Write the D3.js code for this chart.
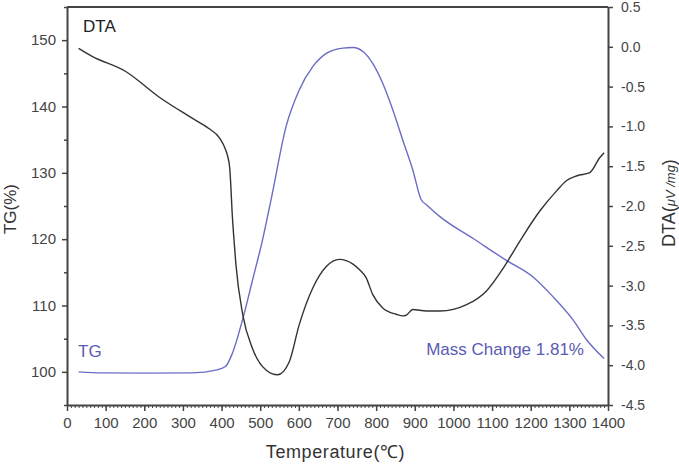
<!DOCTYPE html>
<html lang="en">
<head>
  <meta charset="UTF-8">
  <title>TG / DTA</title>
  <script src="https://d3js.org/d3.v7.min.js"></script>
  <style>
    body { margin: 0; background: #fff; font-family: "Liberation Sans", Arial, sans-serif; }
    .tick text { fill: #444; font-size: 15px; font-family: "Liberation Sans", Arial, sans-serif; }
  </style>
</head>
<body>
  <div id="chart"></div>
  <script>
    // DTA curve (black, right axis, uV/mg)
    const dtaTemp = [30, 65, 152, 238, 325, 368, 394, 411, 416, 421, 424, 427, 431, 437, 455, 480, 515, 545, 575, 601, 636, 671, 705, 740, 757, 774, 791, 817, 852, 870, 878, 895, 930, 965, 1034, 1085, 1129, 1172, 1224, 1267, 1293, 1320, 1353, 1379, 1390];
    const dtaValue = [-0.02, -0.12, -0.31, -0.63, -0.90, -1.03, -1.14, -1.30, -1.38, -1.52, -1.75, -2.05, -2.35, -2.73, -3.37, -3.79, -4.06, -4.12, -3.96, -3.49, -3.03, -2.76, -2.67, -2.73, -2.80, -2.90, -3.11, -3.28, -3.36, -3.38, -3.37, -3.30, -3.32, -3.32, -3.24, -3.07, -2.78, -2.44, -2.06, -1.81, -1.68, -1.62, -1.58, -1.39, -1.33];

    // TG curve (blue, left axis, %)
    const tgTemp = [30, 90, 200, 325, 385, 410, 428, 454, 480, 506, 530, 567, 601, 636, 671, 714, 740, 766, 791, 817, 843, 869, 895, 917, 930, 965, 1051, 1137, 1206, 1258, 1310, 1345, 1390];
    const tgValue = [100.0, 99.85, 99.8, 99.85, 100.25, 100.8, 102.8, 107.8, 113.8, 119.9, 126.5, 137.0, 142.5, 146.0, 148.0, 148.8, 148.9, 148.3, 146.5, 143.5, 139.5, 134.9, 130.4, 125.9, 125.2, 123.4, 120.1, 116.8, 114.3, 111.3, 107.8, 104.8, 102.0];

    const xTicks = d3.range(0, 1401, 100);
    const leftTicks = [100, 110, 120, 130, 140, 150];
    const rightTicks = d3.range(-4.5, 0.51, 0.5);

    const W = 679, H = 464;
    const margin = { top: 7, right: 71, bottom: 59, left: 67 };
    const width = W - margin.left - margin.right;
    const height = H - margin.top - margin.bottom;

    const svg = d3.select("#chart").append("svg")
      .attr("width", W).attr("height", H);
    const g = svg.append("g").attr("transform", `translate(${margin.left},${margin.top})`);

    const x = d3.scaleLinear().domain([0, 1400]).range([0, width]);
    const yL = d3.scaleLinear().domain([95, 155]).range([height, 0]);
    const yR = d3.scaleLinear().domain([-4.5, 0.5]).range([height, 0]);

    const axisColor = "#444";

    // minor ticks
    g.append("g").attr("transform", `translate(0,${height})`)
      .call(d3.axisBottom(x).tickValues(d3.range(0, 1401, 10)).tickSize(3).tickFormat(""))
      .call(a => a.select(".domain").remove())
      .call(a => a.selectAll("line").attr("stroke", axisColor));
    g.append("g")
      .call(d3.axisLeft(yL).tickValues([95, 105, 115, 125, 135, 145, 155]).tickSize(3).tickFormat(""))
      .call(a => a.select(".domain").remove())
      .call(a => a.selectAll("line").attr("stroke", axisColor).attr("stroke-width", 1.5));

    // main axes
    g.append("g").attr("transform", `translate(0,${height})`)
      .call(d3.axisBottom(x).tickValues(xTicks).tickSize(6).tickSizeOuter(0).tickPadding(6)
        .tickFormat(d3.format("d")))
      .call(a => a.select(".domain").attr("stroke", axisColor).attr("stroke-width", 2))
      .call(a => a.selectAll("line").attr("stroke", axisColor).attr("stroke-width", 1.5));

    g.append("g")
      .call(d3.axisLeft(yL).tickValues(leftTicks).tickSize(5).tickSizeOuter(0).tickPadding(6))
      .call(a => a.select(".domain").attr("stroke", axisColor).attr("stroke-width", 2))
      .call(a => a.selectAll("line").attr("stroke", axisColor).attr("stroke-width", 1.5));

    g.append("g").attr("transform", `translate(${width},0)`)
      .call(d3.axisRight(yR).tickValues(rightTicks).tickSize(5).tickSizeOuter(0).tickPadding(8)
        .tickFormat(d => d.toFixed(1)))
      .call(a => a.select(".domain").attr("stroke", axisColor).attr("stroke-width", 2))
      .call(a => a.selectAll("line").attr("stroke", axisColor).attr("stroke-width", 1.5))
      .call(a => a.selectAll("text").style("font-size", "14px"));

    // top frame
    g.append("line")
      .attr("x1", 0).attr("x2", width).attr("y1", 0).attr("y2", 0)
      .attr("stroke", axisColor).attr("stroke-width", 2);

    // curves
    const dtaData = dtaTemp.map((t, i) => [t, dtaValue[i]]);
    const tgData = tgTemp.map((t, i) => [t, tgValue[i]]);

    g.append("path")
      .datum(tgData)
      .attr("fill", "none")
      .attr("stroke", "#6b6cc6")
      .attr("stroke-width", 1.4)
      .attr("d", d3.line().x(d => x(d[0])).y(d => yL(d[1])).curve(d3.curveMonotoneX));

    g.append("path")
      .datum(dtaData)
      .attr("fill", "none")
      .attr("stroke", "#333")
      .attr("stroke-width", 1.4)
      .attr("d", d3.line().x(d => x(d[0])).y(d => yR(d[1])).curve(d3.curveMonotoneX));

    // labels inside plot
    svg.append("text").attr("x", 83).attr("y", 32)
      .attr("font-size", 17).attr("fill", "#222").text("DTA");
    svg.append("text").attr("x", 78).attr("y", 357)
      .attr("font-size", 17).attr("fill", "#5a5bb4").text("TG");
    svg.append("text").attr("x", 584).attr("y", 355)
      .attr("text-anchor", "end")
      .attr("font-size", 17).attr("fill", "#5a5bb4").text("Mass Change 1.81%");

    // axis titles
    svg.append("text")
      .attr("transform", `translate(16,${margin.top + height / 2 + 3}) rotate(-90)`)
      .attr("text-anchor", "middle").attr("font-size", 17).attr("fill", "#333")
      .text("TG(%)");

    const rt = svg.append("text")
      .attr("transform", `translate(675,${margin.top + height / 2 - 3}) rotate(-90)`)
      .attr("text-anchor", "middle").attr("font-size", 18).attr("fill", "#333");
    rt.append("tspan").text("DTA(");
    rt.append("tspan").attr("font-size", 13).attr("font-style", "italic").text("\u03bcV /mg");
    rt.append("tspan").text(")");

    svg.append("text")
      .attr("x", margin.left + width / 2 - 2).attr("y", 458)
      .attr("text-anchor", "middle").attr("font-size", 18).attr("letter-spacing", 0.6)
      .attr("fill", "#333")
      .text("Temperature(\u2103)");
  </script>
</body>
</html>
